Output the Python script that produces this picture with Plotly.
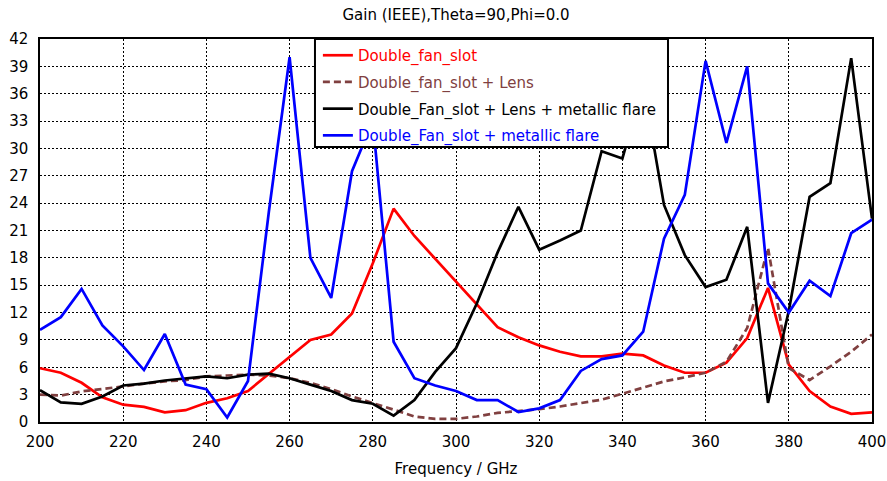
import plotly.graph_objects as go

freq = list(range(200, 401, 5))

double_fan_slot = [5.9, 5.4, 4.3, 2.7, 1.9, 1.65, 1.05, 1.3, 2.1, 2.6,
                   3.4, 5.3, 7.2, 9.0, 9.6, 11.9, 17.4, 23.4, 20.4, 17.9,
                   15.4, 12.9, 10.4, 9.3, 8.4, 7.7, 7.2, 7.2, 7.5, 7.3,
                   6.2, 5.4, 5.4, 6.5, 9.2, 14.7, 6.3, 3.4, 1.7, 0.9, 1.05]

double_fan_slot_lens = [3.0, 2.9, 3.35, 3.6, 3.9, 4.2, 4.45, 4.6, 5.0, 5.1,
                        5.2, 5.1, 4.8, 4.3, 3.6, 2.8, 2.1, 1.35, 0.6, 0.35,
                        0.35, 0.6, 1.0, 1.2, 1.4, 1.7, 2.1, 2.45, 3.1, 3.8,
                        4.45, 4.9, 5.4, 6.6, 10.3, 19.1, 5.9, 4.6, 6.1, 7.7, 9.6]

lens_metallic_flare = [3.5, 2.15, 2.0, 2.8, 4.0, 4.2, 4.55, 4.8, 5.0, 4.8,
                       5.2, 5.3, 4.8, 4.1, 3.4, 2.4, 2.0, 0.7, 2.4, 5.5,
                       8.1, 13.0, 18.6, 23.6, 18.9, 19.9, 21.0, 29.7, 28.9, 37.0,
                       23.8, 18.3, 14.8, 15.6, 21.4, 2.1, 12.2, 24.7, 26.2, 39.9, 22.3]

metallic_flare = [10.1, 11.5, 14.6, 10.6, 8.3, 5.7, 9.65, 4.1, 3.6, 0.5,
                  4.5, 23.0, 40.0, 18.0, 13.6, 27.5, 33.0, 8.8, 4.8, 4.0,
                  3.4, 2.4, 2.4, 1.1, 1.5, 2.4, 5.6, 6.9, 7.3, 9.9,
                  20.1, 24.9, 39.6, 30.6, 39.0, 15.2, 12.0, 15.5, 13.8, 20.7, 22.2]

series_names = ["Double_fan_slot", "Double_fan_slot + Lens",
                "Double_Fan_slot + Lens + metallic flare",
                "Double_Fan_slot + metallic flare"]

y_ticks = list(range(0, 43, 3))
x_ticks = list(range(200, 401, 20))

colors = ["#ff0000", "#804040", "#000000", "#0000ff"]
dashes = ["solid", "7px,4px", "solid", "solid"]
data = [double_fan_slot, double_fan_slot_lens, lens_metallic_flare, metallic_flare]

FONT = "DejaVu Sans"
FS = 15

fig = go.Figure()
for i, (name, ys) in enumerate(zip(series_names, data)):
    fig.add_trace(go.Scatter(
        x=freq, y=ys, mode="lines",
        name=f"<span style='color:{colors[i]}'>{name}</span>",
        legendgroup=f"g{i}",
        line=dict(color=colors[i], width=2.7, dash=dashes[i]),
    ))

# legend frame (white box with black border, drawn above the traces)
fig.add_shape(type="rect", xref="paper", yref="paper",
              x0=0.3305, x1=0.7548, y0=0.718, y1=1.0,
              fillcolor="white", line=dict(color="#000000", width=2),
              layer="above")

fig.update_layout(
    width=887, height=481,
    margin=dict(l=40, r=15, t=39, b=59, autoexpand=False),
    paper_bgcolor="white", plot_bgcolor="white",
    font=dict(family=FONT, size=FS, color="#000000"),
    title=dict(text="Gain (IEEE),Theta=90,Phi=0.0", x=0.5, xref="paper",
               xanchor="center", y=1 - 15 / 481, yanchor="middle",
               font=dict(family=FONT, size=FS, color="#000000")),
    showlegend=True,
    legend=dict(x=0.334, y=1.0, xanchor="left", yanchor="top",
                bgcolor="rgba(0,0,0,0)", borderwidth=0,
                font=dict(family=FONT, size=FS),
                traceorder="grouped", tracegroupgap=4.2),
    xaxis=dict(range=[200, 400], tickvals=x_ticks, ticks="", automargin=False,
               showgrid=True, gridcolor="#000000", gridwidth=1, griddash="2px,2px",
               showline=True, linecolor="#000000", linewidth=1.5, mirror=True,
               zeroline=False, ticklabelstandoff=5,
               tickfont=dict(family=FONT, size=FS),
               title=dict(text="Frequency / GHz", standoff=14,
                          font=dict(family=FONT, size=FS))),
    yaxis=dict(range=[0, 42], tickvals=y_ticks, ticks="", automargin=False,
               showgrid=True, gridcolor="#000000", gridwidth=1, griddash="2px,2px",
               showline=True, linecolor="#000000", linewidth=1.5, mirror=True,
               zeroline=False, ticklabelstandoff=7,
               tickfont=dict(family=FONT, size=FS)),
)

fig.write_html("out.html", config={"displayModeBar": False},
               post_script="document.body.style.margin='0px';document.body.style.padding='0px';")
